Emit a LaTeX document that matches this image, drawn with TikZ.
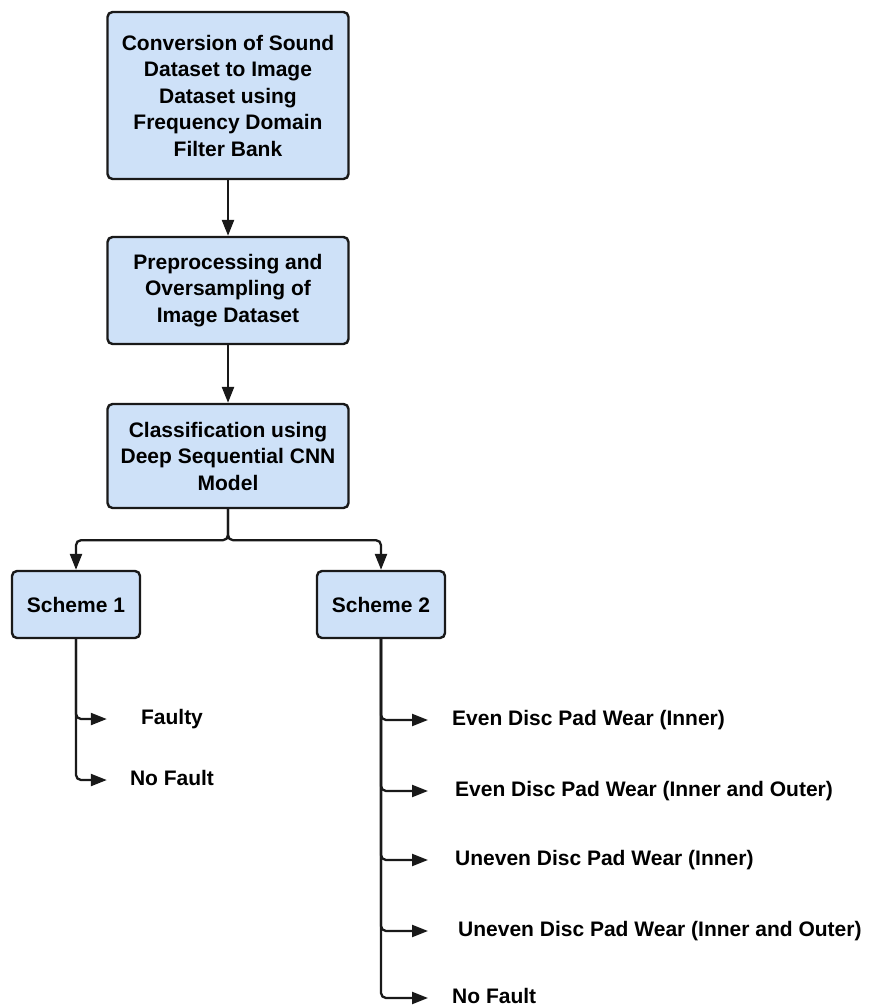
\documentclass[tikz,border=0pt]{standalone}
\usepackage{fontspec}
\setmainfont{Liberation Sans}
\usepackage{xcolor}
\usepackage{tikz}
\usetikzlibrary{positioning,arrows.meta}
\definecolor{boxblue}{RGB}{206,225,248}
\definecolor{edgegray}{RGB}{25,25,25}

\begin{document}
\begin{tikzpicture}[
        x=1pt, y=-1pt,
        stage/.style={draw=edgegray, line width=2.4pt, rounded corners=5pt, fill=boxblue, align=center, font=\fontsize{21}{26.5}\selectfont\bfseries},
        scheme/.style={stage, minimum width=128pt, minimum height=67pt},
        result/.style={font=\fontsize{21}{26.5}\selectfont\bfseries, inner sep=0pt, text height=15pt, text depth=4pt},
        link/.style={-{Triangle[length=16pt,width=12pt]}, line width=2.3pt, draw=edgegray, rounded corners=5pt}
    ]
        \useasboundingbox (0,0) rectangle (869,1007);

        \node[stage, minimum width=241pt, minimum height=167pt] (conv) at (228,95.5) {
            Conversion of Sound\\
            Dataset to Image\\
            Dataset using\\
            Frequency Domain\\
            Filter Bank
        };

        \node[stage, minimum width=241pt, minimum height=107pt] (prep) at (228,290.5) {
            Preprocessing and\\
            Oversampling of\\
            Image Dataset
        };

        \node[stage, minimum width=241pt, minimum height=104pt] (clf) at (228,456) {
            Classification using\\
            Deep Sequential CNN\\
            Model
        };

        \node[scheme] (scheme1) at (76,604.5) {Scheme 1};
        \node[scheme] (scheme2) at (381,604.5) {Scheme 2};

        \node[result, minimum width=120pt] (faulty) at (172,719) {Faulty};
        \node[result, minimum width=120pt] (nofaultA) at (172,780) {No Fault};

        \node[result, anchor=west] (evenin) at (452,720) {Even Disc Pad Wear (Inner)};
        \node[result, anchor=west] (eveninout) at (455,791) {Even Disc Pad Wear (Inner and Outer)};
        \node[result, anchor=west] (unevenin) at (455,860) {Uneven Disc Pad Wear (Inner)};
        \node[result, anchor=west] (uneveninout) at (458,931) {Uneven Disc Pad Wear (Inner and Outer)};
        \node[result, anchor=west] (nofaultB) at (452,998) {No Fault};

        \draw[link] (conv) -- (prep);
        \draw[link] (prep) -- (clf);
        \draw[link] (clf.south) -- ++(0,31) -| (scheme1.north);
        \draw[link] (clf.south) -- ++(0,31) -| (scheme2.north);

        \draw[link, shorten >=5pt] (scheme1.south) |- (faulty.west);
        \draw[link, shorten >=5pt] (scheme1.south) |- (nofaultA.west);

        \draw[link, shorten >=24pt] (scheme2.south) |- (evenin.west);
        \draw[link, shorten >=27pt] (scheme2.south) |- (eveninout.west);
        \draw[link, shorten >=27pt] (scheme2.south) |- (unevenin.west);
        \draw[link, shorten >=30pt] (scheme2.south) |- (uneveninout.west);
        \draw[link, shorten >=24pt] (scheme2.south) |- (nofaultB.west);
    \end{tikzpicture}
\end{document}
